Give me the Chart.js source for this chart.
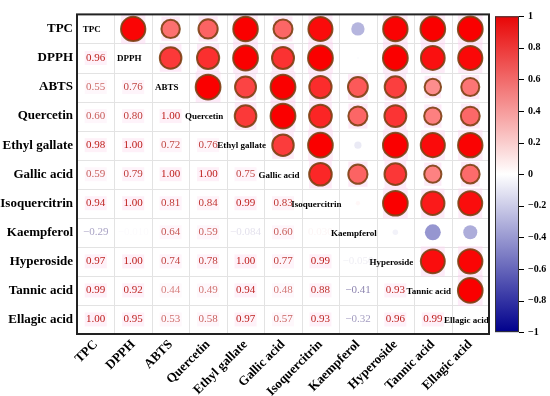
<!DOCTYPE html>
<html>
<head>
<meta charset="utf-8">
<script src="https://cdn.jsdelivr.net/npm/chart.js@4.4.1/dist/chart.umd.min.js"></script>
<style>
  html, body { margin: 0; padding: 0; background: #fff; }
  canvas { display: block; }
</style>
</head>
<body>
<canvas id="corrChart" width="550" height="396"></canvas>
<script>
const labels = ['TPC', 'DPPH', 'ABTS', 'Quercetin', 'Ethyl gallate', 'Gallic acid',
    'Isoquercitrin', 'Kaempferol', 'Hyperoside', 'Tannic acid', 'Ellagic acid'];

// lower triangle of the correlation matrix, row by row
const lowerRows = [
    [],
    [0.96],
    [0.55, 0.76],
    [0.60, 0.80, 1.00],
    [0.98, 1.00, 0.72, 0.76],
    [0.59, 0.79, 1.00, 1.00, 0.75],
    [0.94, 1.00, 0.81, 0.84, 0.99, 0.83],
    [-0.29, -0.01, 0.64, 0.59, -0.084, 0.60, 0.03],
    [0.97, 1.00, 0.74, 0.78, 1.00, 0.77, 0.99, -0.05],
    [0.99, 0.92, 0.44, 0.49, 0.94, 0.48, 0.88, -0.41, 0.93],
    [1.00, 0.95, 0.53, 0.58, 0.97, 0.57, 0.93, -0.32, 0.96, 0.99]
];

const colorbarTicks = [1, 0.8, 0.6, 0.4, 0.2, 0, -0.2, -0.4, -0.6, -0.8, -1];

const n = labels.length;
const SERIF = '"Liberation Serif", "Times New Roman", serif';

// blue - white - red colour map
function cmapRGB(v) {
    if (v >= 0) {
        return [255 + (232 - 255) * v, 255 + (6 - 255) * v, 255 + (6 - 255) * v];
    }
    const t = -v;
    return [255 - 255 * t, 255 - 255 * t, 255 + (140 - 255) * t];
}
function rgb(c, a) {
    const s = c.map(Math.round).join(',');
    return a === undefined ? 'rgb(' + s + ')' : 'rgba(' + s + ',' + a + ')';
}
function cmap(v) { return rgb(cmapRGB(v)); }
// circles look a little brighter than the colour bar
function circleColor(v) {
    if (v < 0) return cmap(v);
    return rgb([255 + (250 - 255) * v, 255 - 255 * v * 1.02, 255 - 255 * v * 1.02].map(c => Math.max(0, c)));
}
function textColor(v) {
    const c = cmapRGB(v);
    const w = 0.35 * Math.min(1, Math.abs(v) * 1.5);
    return rgb([c[0] * (1 - w) + 110 * w, c[1] * (1 - w) + 70 * w, c[2] * (1 - w) + 60 * w]);
}
function fmt(v) {
    const s = Math.abs(v) < 0.1 && v !== 0 ? Math.abs(v).toPrecision(2) : Math.abs(v).toFixed(2);
    return (v < 0 ? '\u2212' : '') + s;
}

// circles go in the upper triangle (mirror of the lower one)
const circles = [];
for (let i = 0; i < n; i++) {
    for (let j = i + 1; j < n; j++) {
        circles.push({ x: j, y: i, v: lowerRows[j][i] });
    }
}

const radius = v => 12.4 * Math.sqrt(Math.abs(v));

const corrPlugin = {
    id: 'corr',
    beforeDatasetsDraw(chart) {
        const { ctx, chartArea: a, scales: { x, y } } = chart;
        ctx.save();
        ctx.fillStyle = '#fff';
        ctx.fillRect(a.left, a.top, a.width, a.height);

        // cell grid
        ctx.strokeStyle = '#e3e3e3';
        ctx.lineWidth = 1;
        for (let k = 1; k < n; k++) {
            const px = Math.round(x.getPixelForValue(k - 0.5)) + 0.5;
            const py = Math.round(y.getPixelForValue(k - 0.5)) + 0.5;
            ctx.beginPath();
            ctx.moveTo(px, a.top); ctx.lineTo(px, a.bottom);
            ctx.moveTo(a.left, py); ctx.lineTo(a.right, py);
            ctx.stroke();
        }

        // faint pink boxes behind circles
        circles.forEach(p => {
            const r = radius(p.v);
            if (p.v < 0.3) return;
            const cx = x.getPixelForValue(p.x), cy = y.getPixelForValue(p.y);
            ctx.fillStyle = 'rgba(250,210,240,0.45)';
            ctx.fillRect(cx - r, cy - r - 3, 2 * r, 2 * r + 6);
        });

        // numbers in the lower triangle
        ctx.font = '11px ' + SERIF;
        ctx.textAlign = 'center';
        ctx.textBaseline = 'middle';
        for (let i = 1; i < n; i++) {
            for (let j = 0; j < i; j++) {
                const v = lowerRows[i][j];
                const cx = x.getPixelForValue(j), cy = y.getPixelForValue(i);
                if (v > 0.3) {
                    ctx.fillStyle = 'rgba(252,222,240,' + (0.45 * v) + ')';
                    ctx.fillRect(cx - 11, cy - 7, 22, 14);
                }
                ctx.fillStyle = textColor(v);
                ctx.fillText(fmt(v), cx, cy);
            }
        }
        ctx.restore();
    },
    afterDatasetsDraw(chart) {
        const { ctx, chartArea: a, scales: { x, y } } = chart;
        ctx.save();
        ctx.beginPath();
        ctx.rect(a.left, a.top, a.width, a.height);
        ctx.clip();
        ctx.font = 'bold 9px ' + SERIF;
        ctx.fillStyle = '#000';
        ctx.textAlign = 'center';
        ctx.textBaseline = 'middle';
        labels.forEach((lab, i) => {
            ctx.fillText(lab, x.getPixelForValue(i) - 4, y.getPixelForValue(i) + 1);
        });
        ctx.restore();

        ctx.save();
        ctx.strokeStyle = '#222';
        ctx.lineWidth = 2;
        ctx.strokeRect(a.left, a.top, a.width, a.height);
        ctx.restore();
    },
    afterDraw(chart) {
        const { ctx, chartArea: a, scales: { cb } } = chart;
        const top = cb.getPixelForValue(1), bottom = cb.getPixelForValue(-1);
        const x0 = a.right + 6, w = 24;
        const g = ctx.createLinearGradient(0, top, 0, bottom);
        colorbarTicks.forEach(v => g.addColorStop((1 - v) / 2, cmap(v)));
        ctx.save();
        ctx.fillStyle = g;
        ctx.fillRect(x0, top, w, bottom - top);
        ctx.strokeStyle = '#333';
        ctx.lineWidth = 1;
        ctx.strokeRect(x0 + 0.5, top + 0.5, w - 1, bottom - top - 1);
        ctx.strokeStyle = '#000';
        cb.ticks.forEach(t => {
            const py = Math.round(cb.getPixelForValue(t.value)) + 0.5;
            ctx.beginPath();
            ctx.moveTo(x0 + w, py);
            ctx.lineTo(x0 + w + 5, py);
            ctx.stroke();
        });
        ctx.restore();
    }
};

const noPad = s => { s.paddingTop = 0; s.paddingBottom = 0; s.paddingLeft = 0; s.paddingRight = 0; };

new Chart(document.getElementById('corrChart'), {
    type: 'scatter',
    data: {
        datasets: [{
            data: circles,
            pointRadius: c => radius(c.raw.v),
            pointHoverRadius: c => radius(c.raw.v),
            backgroundColor: c => circleColor(c.raw.v),
            borderColor: c => c.raw.v > 0.3 ? 'rgba(125,65,20,0.9)' : cmap(c.raw.v),
            borderWidth: c => c.raw.v > 0.3 ? 2 : 0
        }]
    },
    options: {
        responsive: false,
        animation: false,
        events: [],
        layout: { padding: { top: 5, left: 0, right: 0, bottom: 0 } },
        plugins: { legend: { display: false }, tooltip: { enabled: false } },
        scales: {
            x: {
                type: 'linear', min: -0.5, max: 10.5, position: 'bottom',
                grid: { display: false, drawTicks: false },
                border: { display: false },
                afterBuildTicks: s => { s.ticks = labels.map((_, i) => ({ value: i })); },
                afterFit: s => { s.height = 62; noPad(s); },
                ticks: {
                    autoSkip: false, maxRotation: 45, minRotation: 45, padding: 3,
                    color: '#000', font: { family: SERIF, size: 13, weight: 'bold' },
                    callback: v => labels[v]
                }
            },
            y: {
                type: 'linear', min: -0.5, max: 10.5, reverse: true, position: 'left',
                grid: { display: false, drawTicks: false },
                border: { display: false },
                afterBuildTicks: s => { s.ticks = labels.map((_, i) => ({ value: i })); },
                afterFit: s => { s.width = 77; noPad(s); },
                ticks: {
                    autoSkip: false, padding: 4,
                    color: '#000', font: { family: SERIF, size: 13, weight: 'bold' },
                    callback: v => labels[v]
                }
            },
            cb: {
                type: 'linear', min: -1.012, max: 1.012, position: 'right',
                grid: { display: false, drawTicks: false },
                border: { display: false },
                afterBuildTicks: s => { s.ticks = colorbarTicks.map(v => ({ value: v })); },
                afterFit: s => { s.width = 61; noPad(s); },
                ticks: {
                    padding: 39,
                    color: '#000', font: { family: SERIF, size: 10, weight: 'bold' },
                    callback: v => (v < 0 ? '\u2212' : '') + Math.abs(v)
                }
            }
        }
    },
    plugins: [corrPlugin]
});
</script>
</body>
</html>
